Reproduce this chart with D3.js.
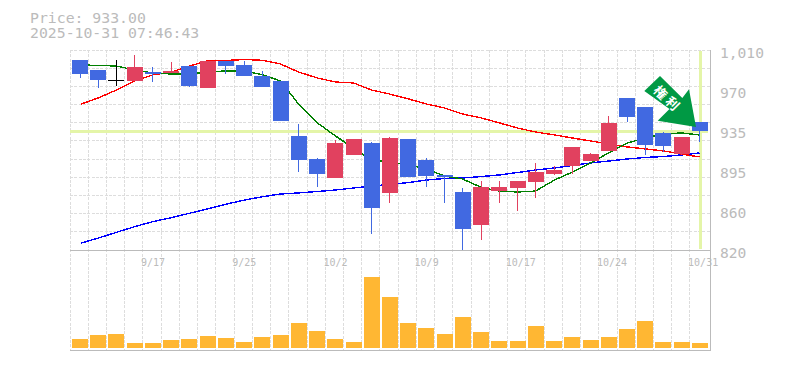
<!DOCTYPE html>
<html>
<head>
<meta charset="utf-8">
<script src="https://cdnjs.cloudflare.com/ajax/libs/d3/7.8.5/d3.min.js"></script>
<style>
  body { margin: 0; background: #fff; }
  text { font-family: "DejaVu Sans Mono", monospace; fill: #bbb; }
</style>
</head>
<body>
<div id="chart"></div>
<script>
'use strict';

var dates = ['9/10', '9/11', '9/12', '9/16', '9/17', '9/18', '9/19', '9/22', '9/24', '9/25', '9/26', '9/29', '9/30', '10/1', '10/2', '10/3', '10/6', '10/7', '10/8', '10/9', '10/10', '10/14', '10/15', '10/16', '10/17', '10/20', '10/21', '10/22', '10/23', '10/24', '10/27', '10/28', '10/29', '10/30', '10/31'];
var opens = [1000.5, 991, 981.2, 980.6, 989.1, 988.2, 994.8, 973.9, 999.6, 995.8, 985.3, 980.6, 928.3, 906.5, 888.4, 910.3, 921.7, 874.2, 925.5, 905.5, 891.3, 875.1, 843.8, 876, 878.9, 884.6, 892.2, 899.8, 904.5, 914, 964.4, 955.8, 931.2, 911.2, 941.6];
var highs = [1000.5, 991, 1000.5, 1005.3, 993.9, 998.6, 994.8, 999.6, 999.6, 999.6, 990.1, 980.6, 939.7, 907.4, 924.5, 925.5, 922.6, 927.4, 925.5, 907.4, 891.3, 878.9, 885.6, 885.6, 885.6, 902.7, 899.8, 917.9, 912.2, 947.3, 964.4, 955.8, 932.1, 927.4, 941.6];
var lows = [983.4, 973.9, 975.8, 980.6, 979.6, 988.2, 974.9, 973.9, 987.2, 985.3, 974.9, 942.6, 894.1, 879.9, 888.4, 910.3, 835.2, 864.6, 889.4, 879.9, 864.6, 820, 829.5, 864.6, 857.1, 869.4, 891.3, 892.2, 904.5, 914, 941.6, 910.3, 913.1, 910.3, 922.6];
var closes = [987.2, 981.5, 981.2, 993.9, 987.2, 990.1, 975.8, 999.6, 994.8, 985.3, 974.9, 942.6, 905.5, 892.2, 921.7, 925.5, 859.9, 926.4, 889.4, 890.3, 889.4, 840, 879.9, 879.9, 885.6, 894.1, 896, 917.9, 911.2, 940.7, 946.4, 919.8, 918.8, 927.4, 933];
var maShort = [995.8, 995.3, 994.8, 991, 988.2, 987.2, 987.2, 989.1, 990.1, 990.1, 986.5, 980.6, 958.7, 940.7, 928.3, 916.9, 905.5, 903.6, 900.8, 897, 890.3, 887.5, 879.4, 876, 875.1, 876, 886.5, 894.1, 902.7, 912.2, 921.7, 926.4, 930.2, 931.2, 929.3];
var maMid = [958.4, 964.6, 972, 980.6, 986.3, 989.1, 994.8, 999.6, 1000, 1001, 1000.2, 996.7, 989.1, 983.4, 979.6, 978.7, 972, 968.2, 963.5, 958.7, 954.9, 949.2, 945.4, 940.7, 935.9, 932.1, 929.3, 926.4, 923.6, 920.7, 917.9, 916, 914.1, 911.2, 908.4];
var maLong = [826.4, 831.4, 836.8, 842.1, 846.9, 850.7, 854.9, 859, 863.4, 867.5, 870.6, 873.2, 874.2, 875.6, 877, 878.9, 880.8, 882.2, 884.1, 886.5, 887.9, 888.4, 889.8, 891.3, 893.6, 896, 897.9, 900.3, 902.7, 904.5, 906.5, 907.9, 908.8, 910.3, 912.2];
var volumes = [9, 13, 14, 5, 5, 8, 9, 12, 10, 6, 11, 13, 25, 17, 9, 6, 71, 51, 25, 20, 14, 31, 16, 7, 7, 22, 7, 11, 8, 11, 19, 27, 6, 6, 5];
var priceTicks = [820, 858, 896, 934, 972, 1010];
var priceLabels = ['820', '860', '895', '935', '970', '1,010'];
var lastPrice = 933;
var stamp = '2025-10-31 07:46:43';

var upColor = '#e1415f';
var downColor = '#4169e1';
var guideColor = '#e4f5a8';
var axisColor = '#bbb';
var gridColor = '#ddd';

var svg = d3.select('#chart').append('svg').attr('width', 785).attr('height', 370);

var x = d3.scaleBand().domain(d3.range(dates.length)).range([70, 708.2]);
var y = d3.scaleLinear().domain([820, 1010]).range([250, 50]);
var v = d3.scaleLinear().domain([0, 71]).range([348, 277]);

function barLeft(i) {
  return Math.round(x(i) + 2);
}

function center(i) {
  return Math.floor(x(i) + 10);
}

// grid first, everything else sits on it
var grid = svg.append('g').attr('stroke', gridColor).attr('stroke-dasharray', '3,1.33').attr('shape-rendering', 'crispEdges');
grid.selectAll('.h').data(d3.range(12)).enter().append('line').attr('class', 'h')
  .attr('x1', 70).attr('x2', 710)
  .attr('y1', function (d) { return Math.floor(y(820 + d * 190 / 11)) + 0.5; })
  .attr('y2', function (d) { return Math.floor(y(820 + d * 190 / 11)) + 0.5; });
grid.selectAll('.v').data(d3.range(dates.length)).enter().append('line').attr('class', 'v')
  .attr('y1', 50).attr('y2', 350)
  .attr('x1', function (d) { return Math.floor(x(d)) + 0.5; })
  .attr('x2', function (d) { return Math.floor(x(d)) + 0.5; });

// last price and last date guides
svg.append('line').attr('x1', 70).attr('x2', 708).attr('y1', y(lastPrice) + 0.5).attr('y2', y(lastPrice) + 0.5)
  .attr('stroke', guideColor).attr('stroke-width', 3);
svg.append('line').attr('x1', 700.5).attr('x2', 700.5).attr('y1', 51).attr('y2', 249)
  .attr('stroke', guideColor).attr('stroke-width', 3);

// moving averages go under the candles
var line = d3.line().x(function (d, i) { return center(i) + 0.5; }).y(function (d) { return y(d); });
[[maLong, '#0000ff'], [maMid, '#ff0000'], [maShort, '#008000']].forEach(function (s) {
  svg.append('path').attr('d', line(s[0])).attr('fill', 'none').attr('stroke', s[1])
    .attr('stroke-width', 1.4).attr('shape-rendering', 'crispEdges');
});

var candles = svg.selectAll('.candle').data(dates).enter().append('g').attr('class', 'candle').attr('shape-rendering', 'crispEdges');

function candleColor(i) {
  if (opens[i] == closes[i]) {
    return '#000';
  }
  return closes[i] > opens[i] ? upColor : downColor;
}

candles.append('rect')
  .attr('x', function (d, i) { return center(i); })
  .attr('width', 1)
  .attr('y', function (d, i) { return y(highs[i]); })
  .attr('height', function (d, i) { return y(lows[i]) - y(highs[i]); })
  .attr('fill', function (d, i) { return candleColor(i); });
candles.append('rect')
  .attr('x', function (d, i) { return barLeft(i); })
  .attr('width', 16)
  .attr('y', function (d, i) { return y(Math.max(opens[i], closes[i])); })
  .attr('height', function (d, i) { return Math.max(1, Math.abs(y(opens[i]) - y(closes[i]))); })
  .attr('fill', function (d, i) { return candleColor(i); });

svg.selectAll('.vol').data(volumes).enter().append('rect').attr('class', 'vol')
  .attr('x', function (d, i) { return barLeft(i); })
  .attr('width', 16)
  .attr('y', function (d) { return v(d); })
  .attr('height', function (d) { return v(0) - v(d); })
  .attr('fill', '#ffb733')
  .attr('shape-rendering', 'crispEdges');

// frame lines of the panels
var frame = svg.append('g').attr('stroke', axisColor).attr('shape-rendering', 'crispEdges');
frame.append('line').attr('x1', 70).attr('x2', 711).attr('y1', 250.5).attr('y2', 250.5);
frame.append('line').attr('x1', 70).attr('x2', 711).attr('y1', 350.5).attr('y2', 350.5);
frame.append('line').attr('x1', 710.5).attr('x2', 710.5).attr('y1', 50).attr('y2', 351);

var yAxis = d3.axisRight(y).tickValues(priceTicks).tickSize(0).tickPadding(10).tickFormat(function (d, i) {
  return priceLabels[i];
});
var yG = svg.append('g').attr('transform', 'translate(710,0)').call(yAxis);
yG.select('.domain').remove();
yG.selectAll('text').attr('font-family', null).attr('font-size', 14.6).attr('dy', 7);

var xAxis = d3.axisBottom(x).tickValues(d3.range(4, dates.length, 5)).tickSize(0).tickPadding(9).tickFormat(function (d) {
  return dates[d];
});
var xG = svg.append('g').attr('transform', 'translate(0,250)').call(xAxis);
xG.select('.domain').remove();
xG.selectAll('text').attr('font-family', null).attr('font-size', 10).attr('text-anchor', 'start').attr('dx', -11);

svg.append('text').attr('x', 30).attr('y', 23).attr('font-size', 14.8).text('Price: ' + lastPrice.toFixed(2));
svg.append('text').attr('x', 30).attr('y', 38).attr('font-size', 14.8).text(stamp);

// the sticker arrow pointing at the last candle
svg.append('polygon')
  .attr('points', '660,76 644.3,91 669.5,109 657.7,120.7 696,127 689,89.3 682.3,98')
  .attr('fill', '#009944');
svg.append('text').attr('transform', 'translate(660.5,92.5) rotate(45)')
  .attr('text-anchor', 'middle').attr('dy', '0.36em')
  .style('font-family', '"Noto Sans CJK JP"').style('font-weight', 700).style('font-size', '13px').style('fill', '#fff')
  .text('権');
svg.append('text').attr('transform', 'translate(672.5,103.5) rotate(45)')
  .attr('text-anchor', 'middle').attr('dy', '0.36em')
  .style('font-family', '"Noto Sans CJK JP"').style('font-weight', 700).style('font-size', '13px').style('fill', '#fff')
  .text('利');
</script>
</body>
</html>
